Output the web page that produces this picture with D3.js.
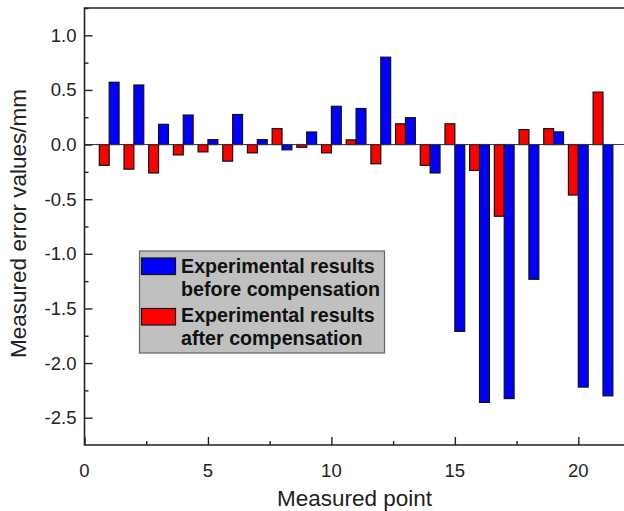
<!DOCTYPE html>
<html>
<head>
<meta charset="UTF-8">
<title>Measured error values before and after compensation</title>
<script src="https://d3js.org/d3.v7.min.js"></script>
<style>
body { margin: 0; background: white; }
svg { display: block; font-family: Arial, "Liberation Sans", sans-serif; }
</style>
</head>
<body>
<script>
// measured points 1..21
var points = d3.range(1, 22);
var before = [0.57, 0.545, 0.185, 0.27, 0.045, 0.275, 0.045, -0.048, 0.115, 0.35,
              0.33, 0.80, 0.246, -0.26, -1.71, -2.36, -2.325, -1.233, 0.116, -2.22, -2.30];
var after  = [-0.19, -0.225, -0.26, -0.095, -0.067, -0.152, -0.076, 0.146, -0.025, -0.076,
              0.043, -0.176, 0.19, -0.19, 0.19, -0.237, -0.656, 0.137, 0.146, -0.462, 0.48];
var xTicks = [0, 5, 10, 15, 20];
var yTicks = [-2.5, -2.0, -1.5, -1.0, -0.5, 0.0, 0.5, 1.0];
var legendLines = [
  ["Experimental results", "before compensation"],
  ["Experimental results", "after compensation"]
];

var width = 624, height = 511;
// note: "top" is taken by window.top, so plot edges get their own names
var plotLeft = 84.5, plotTop = 8, plotBottom = 445;

var svg = d3.select("body").append("svg")
    .attr("width", width)
    .attr("height", height);

var x = d3.scaleLinear().domain([0, 22]).range([plotLeft, plotLeft + 22 * 24.69]);
var y = d3.scaleLinear().domain([-2.75, 1.25]).range([plotBottom, plotTop]);
var barW = x(0.4) - x(0);

// bars
var bars = svg.append("g");
bars.selectAll("rect.after")
    .data(after)
    .enter().append("rect")
    .attr("class", "after")
    .attr("x", function(d, i) { return x(points[i] - 0.4); })
    .attr("y", function(d) { return y(Math.max(0, d)); })
    .attr("width", barW)
    .attr("height", function(d) { return Math.abs(y(d) - y(0)); })
    .attr("fill", "#ff0000")
    .attr("stroke", "#111")
    .attr("stroke-width", 1.2);

bars.selectAll("rect.before")
    .data(before)
    .enter().append("rect")
    .attr("class", "before")
    .attr("x", function(d, i) { return x(points[i]); })
    .attr("y", function(d) { return y(Math.max(0, d)); })
    .attr("width", barW)
    .attr("height", function(d) { return Math.abs(y(d) - y(0)); })
    .attr("fill", "#0000ff")
    .attr("stroke", "#111")
    .attr("stroke-width", 1.2);

// zero line
svg.append("line")
    .attr("x1", plotLeft).attr("x2", width)
    .attr("y1", y(0)).attr("y2", y(0))
    .attr("stroke", "#333")
    .attr("stroke-width", 1);

// frame (right side falls outside the picture)
svg.append("path")
    .attr("d", "M" + (width + 5) + "," + plotTop + "H" + plotLeft + "V" + plotBottom + "H" + (width + 5))
    .attr("fill", "none")
    .attr("stroke", "#222")
    .attr("stroke-width", 1.6);

// y axis, ticks inside
var gy = svg.append("g")
    .attr("transform", "translate(" + plotLeft + ",0)")
    .call(d3.axisRight(y).tickValues(yTicks).tickSize(8).tickFormat(""));
gy.select(".domain").remove();
gy.selectAll("line").attr("stroke", "#222").attr("stroke-width", 1.4);

var yMinor = svg.append("g")
    .attr("transform", "translate(" + plotLeft + ",0)")
    .call(d3.axisRight(y).tickValues(yTicks.map(function(v) { return v + 0.25; })).tickSize(4).tickFormat(""));
yMinor.select(".domain").remove();
yMinor.selectAll("line").attr("stroke", "#222").attr("stroke-width", 1.4);

svg.append("g").selectAll("text")
    .data(yTicks)
    .enter().append("text")
    .attr("x", plotLeft - 8)
    .attr("y", function(d) { return y(d); })
    .attr("dy", "0.35em")
    .attr("text-anchor", "end")
    .attr("font-size", "18.5px")
    .attr("fill", "#222")
    .text(function(d) { return d3.format(".1f")(d).replace("\u2212", "-"); });

// x axis, ticks inside
var gx = svg.append("g")
    .attr("transform", "translate(0," + plotBottom + ")")
    .call(d3.axisTop(x).tickValues(xTicks).tickSize(8).tickFormat(""));
gx.select(".domain").remove();
gx.selectAll("line").attr("stroke", "#222").attr("stroke-width", 1.4);

var xMinor = svg.append("g")
    .attr("transform", "translate(0," + plotBottom + ")")
    .call(d3.axisTop(x).tickValues(xTicks.map(function(v) { return v + 2.5; })).tickSize(4).tickFormat(""));
xMinor.select(".domain").remove();
xMinor.selectAll("line").attr("stroke", "#222").attr("stroke-width", 1.4);

svg.append("g").selectAll("text")
    .data(xTicks)
    .enter().append("text")
    .attr("x", function(d) { return x(d); })
    .attr("y", 477)
    .attr("text-anchor", "middle")
    .attr("font-size", "18.5px")
    .attr("fill", "#222")
    .text(function(d) { return d; });

// axis titles
svg.append("text")
    .attr("x", 354.5)
    .attr("y", 506)
    .attr("text-anchor", "middle")
    .attr("font-size", "22.5px")
    .attr("fill", "#222")
    .text("Measured point");

svg.append("text")
    .attr("transform", "translate(26,223.5) rotate(-90)")
    .attr("text-anchor", "middle")
    .attr("font-size", "22.5px")
    .attr("fill", "#222")
    .text("Measured error values/mm");

// legend
var legend = svg.append("g");
legend.append("rect")
    .attr("x", 139.5).attr("y", 251)
    .attr("width", 245).attr("height", 102)
    .attr("fill", "#c0c0c0")
    .attr("stroke", "#666")
    .attr("stroke-width", 1.2);

var legendColors = ["#0000ff", "#ff0000"];
var swatchY = [258, 308.5];
var textY = [[272.5, 295.5], [322, 345]];
legendColors.forEach(function(c, i) {
    legend.append("rect")
        .attr("x", 141.5).attr("y", swatchY[i])
        .attr("width", 34).attr("height", 16.5)
        .attr("fill", c)
        .attr("stroke", "#111")
        .attr("stroke-width", 1.2);
    legendLines[i].forEach(function(t, j) {
        legend.append("text")
            .attr("x", 181)
            .attr("y", textY[i][j])
            .attr("font-size", "19.7px")
            .attr("font-weight", "bold")
            .attr("fill", "#111")
            .text(t);
    });
});
</script>
</body>
</html>
